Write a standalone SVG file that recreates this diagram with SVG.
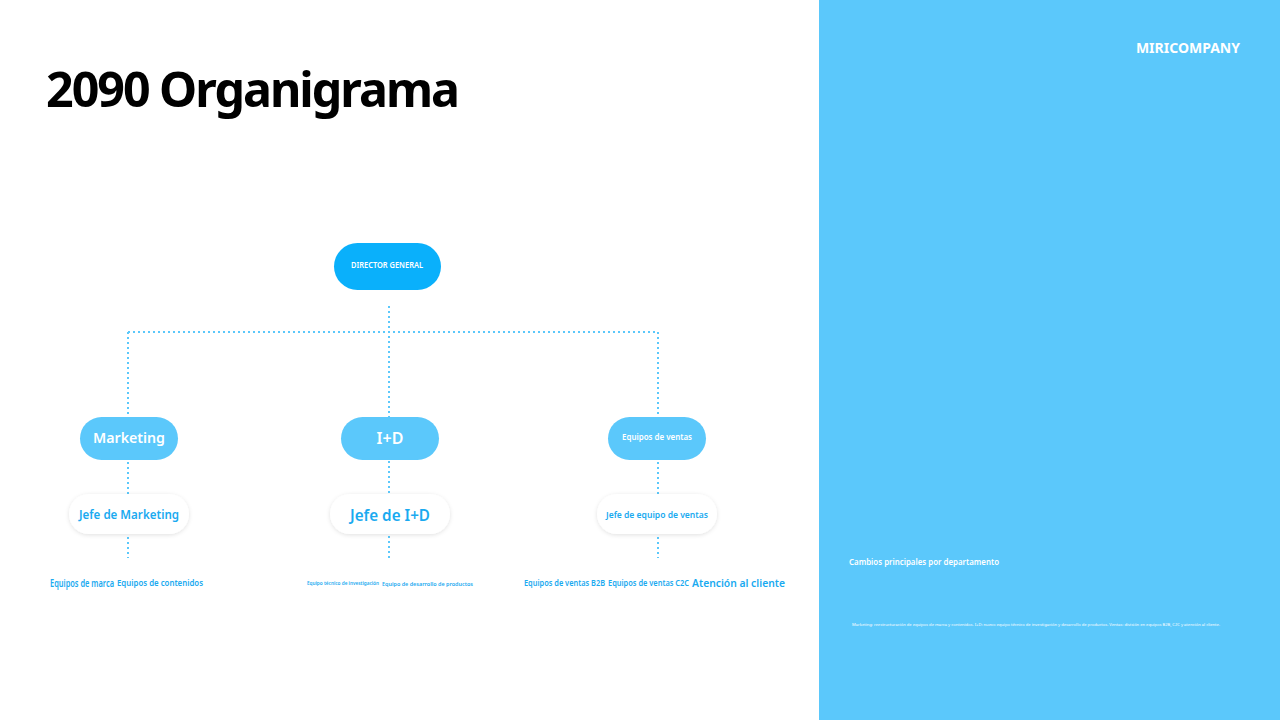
<svg xmlns="http://www.w3.org/2000/svg" width="1280" height="720" viewBox="0 0 1280 720">
<defs>
<filter id="sh" x="-20%" y="-30%" width="140%" height="160%"><feDropShadow dx="0" dy="1" stdDeviation="2" flood-color="#000" flood-opacity="0.12"/></filter>
</defs>
<style>
text{font-family:"Noto Sans","Open Sans","Liberation Sans",sans-serif}
.blue{fill:#5bc8fb}
.dark{fill:#0ab0fb}
.wt{fill:#ffffff;font-weight:600;text-anchor:middle}
.bt{fill:#1aaaf0;font-weight:600;text-anchor:middle}
.bl{fill:#1aaaf0;font-weight:600}
.con{stroke:#5bc8fb;stroke-width:2;stroke-dasharray:2 3;fill:none}
</style>
<rect width="1280" height="720" fill="#ffffff"/>
<rect x="819" y="0" width="461" height="720" fill="#5bc8fb"/>
<text x="1240" y="53" font-size="14" font-weight="700" fill="#ffffff" text-anchor="end">MIRICOMPANY</text>
<text x="46" y="107" font-size="48" font-weight="700" fill="#000" letter-spacing="-2" textLength="412" lengthAdjust="spacingAndGlyphs">2090 Organigrama</text>
<text x="849" y="565" font-size="9" font-weight="600" fill="#ffffff" textLength="150" lengthAdjust="spacingAndGlyphs">Cambios principales por departamento</text>
<text x="852" y="626" font-size="3" fill="#ffffff" textLength="368" lengthAdjust="spacingAndGlyphs">Marketing: reestructuración de equipos de marca y contenidos. I+D: nuevo equipo técnico de investigación y desarrollo de productos. Ventas: división en equipos B2B, C2C y atención al cliente.</text>
<g id="connectors">
<path class="con" d="M389 306 V558 M128 332 H658 M128 332 V558 M658 332 V558"/>
</g>
<g id="n-director"><rect x="334" y="243" width="107" height="47" rx="23.5" class="dark"/><text x="387" y="268" font-size="8" class="wt" textLength="72" lengthAdjust="spacingAndGlyphs">DIRECTOR GENERAL</text></g>
<g id="n-marketing"><rect x="80" y="417" width="98" height="43" rx="21.5" class="blue"/><text x="129" y="443" font-size="15" class="wt" textLength="72" lengthAdjust="spacingAndGlyphs">Marketing</text></g>
<g id="n-id"><rect x="341" y="417" width="98" height="43" rx="21.5" class="blue"/><text x="390" y="444" font-size="16" class="wt">I+D</text></g>
<g id="n-ventas"><rect x="608" y="417" width="98" height="43" rx="21.5" class="blue"/><text x="657" y="440" font-size="8" class="wt" textLength="70" lengthAdjust="spacingAndGlyphs">Equipos de ventas</text></g>
<g id="n-jefe-mkt"><rect x="69" y="494" width="120" height="40" rx="20" fill="#fff" filter="url(#sh)"/><text x="129" y="519" font-size="13" class="bt" textLength="100" lengthAdjust="spacingAndGlyphs">Jefe de Marketing</text></g>
<g id="n-jefe-id"><rect x="330" y="494" width="120" height="40" rx="20" fill="#fff" filter="url(#sh)"/><text x="390" y="521" font-size="16" class="bt" textLength="80" lengthAdjust="spacingAndGlyphs">Jefe de I+D</text></g>
<g id="n-jefe-ventas"><rect x="597" y="494" width="120" height="40" rx="20" fill="#fff" filter="url(#sh)"/><text x="657" y="518" font-size="9" class="bt" textLength="102" lengthAdjust="spacingAndGlyphs">Jefe de equipo de ventas</text></g>
<g id="leaf-marca"><text x="50" y="587" font-size="11" class="bl" textLength="64" lengthAdjust="spacingAndGlyphs">Equipos de marca</text></g>
<g id="leaf-contenidos"><text x="117" y="586" font-size="8.5" class="bl" textLength="86" lengthAdjust="spacingAndGlyphs">Equipos de contenidos</text></g>
<g id="leaf-invest"><text x="307" y="585" font-size="6" class="bl" textLength="72" lengthAdjust="spacingAndGlyphs">Equipo técnico de investigación</text></g>
<g id="leaf-desarrollo"><text x="382" y="586" font-size="6" class="bl" textLength="91" lengthAdjust="spacingAndGlyphs">Equipo de desarrollo de productos</text></g>
<g id="leaf-b2b"><text x="524" y="586" font-size="9" class="bl" textLength="81" lengthAdjust="spacingAndGlyphs">Equipos de ventas B2B</text></g>
<g id="leaf-c2c"><text x="608" y="586" font-size="9" class="bl" textLength="81" lengthAdjust="spacingAndGlyphs">Equipos de ventas C2C</text></g>
<g id="leaf-atencion"><text x="692" y="587" font-size="11" class="bl" textLength="93" lengthAdjust="spacingAndGlyphs">Atención al cliente</text></g>
</svg>
